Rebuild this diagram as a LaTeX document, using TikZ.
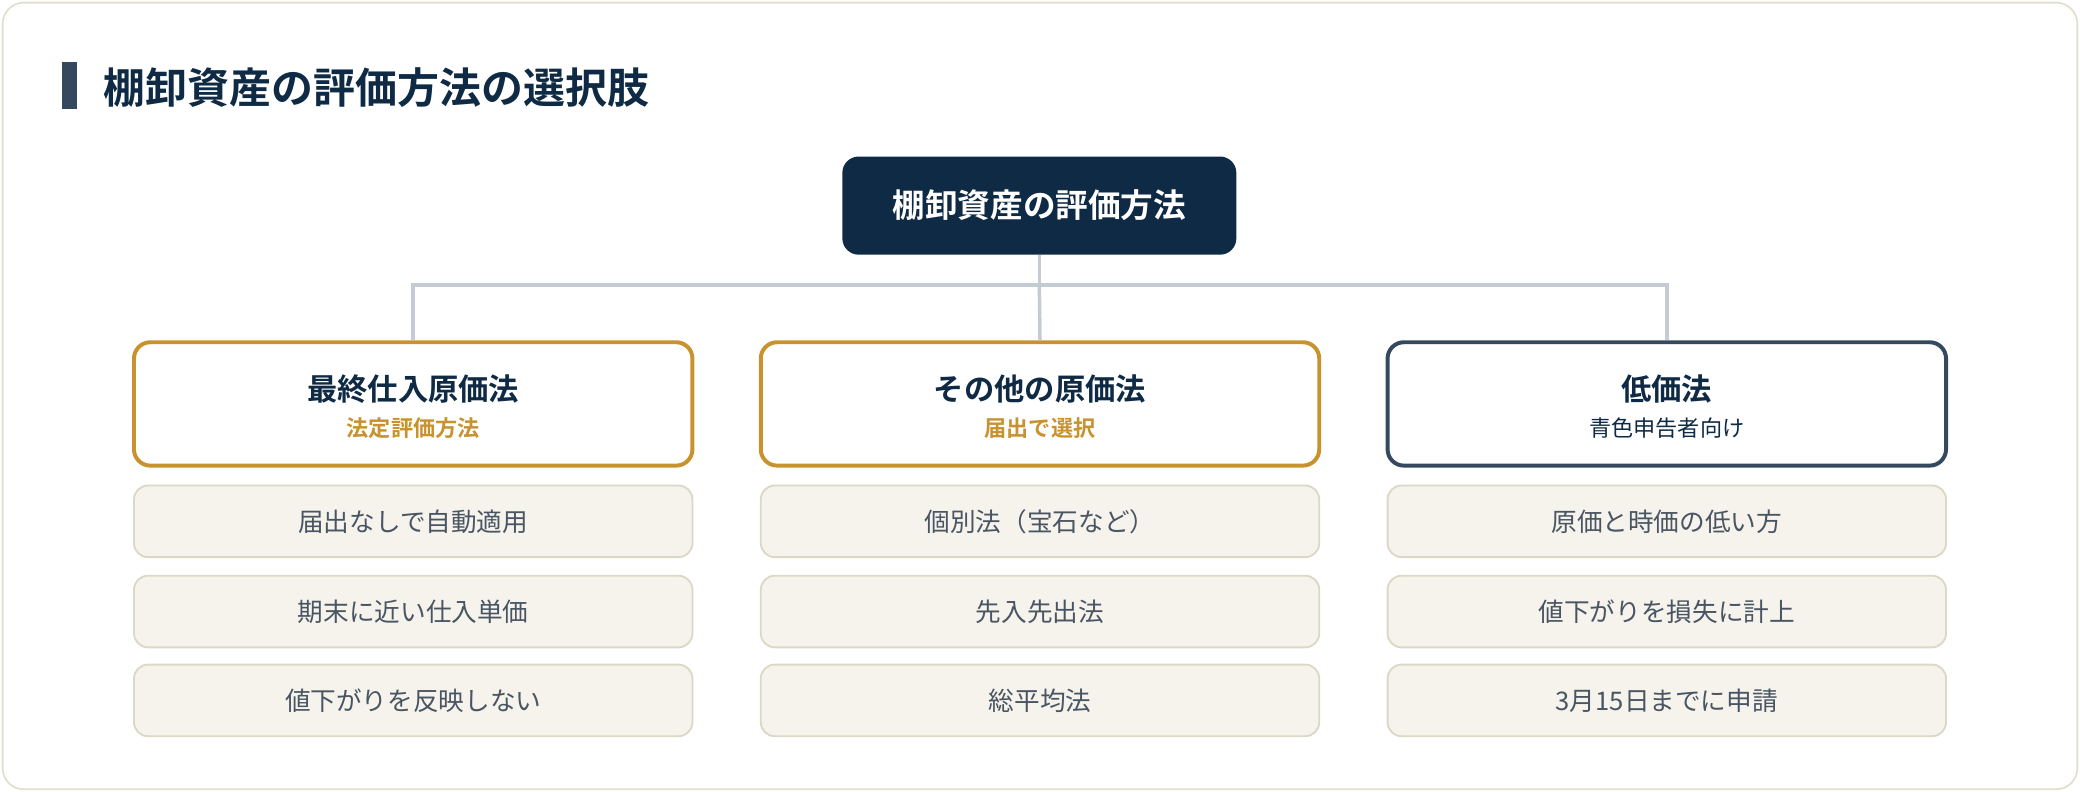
\documentclass[tikz,border=0pt]{standalone}
\usepackage{fontspec}
\setmainfont{Noto Sans CJK JP}[BoldFont={Noto Sans CJK JP Bold}]
\usetikzlibrary{positioning}
\definecolor{navy}{HTML}{0F2A44}
\definecolor{slate}{HTML}{34495E}
\definecolor{gold}{HTML}{C8922E}
\definecolor{frame}{HTML}{E3E0CF}
\definecolor{itemfill}{HTML}{F5F3EC}
\definecolor{itemline}{HTML}{DCD8C6}
\definecolor{itemtext}{HTML}{4A5563}
\definecolor{wire}{HTML}{C5CBD3}
\tikzset{
  cat/.style={draw, line width=1.7pt, fill=white, rounded corners=7pt, minimum width=421*0.02cm, minimum height=93*0.02cm, align=center},
  item/.style={draw=itemline, line width=0.8pt, fill=itemfill, rounded corners=6pt, minimum width=421*0.02cm, minimum height=54*0.02cm, text=itemtext, font=\fontsize{11}{13}\selectfont},
  head/.style={font=\bfseries\fontsize{13}{16}\selectfont},
  sub/.style={font=\bfseries\fontsize{9.5}{12}\selectfont}
}
\begin{document}
\begin{tikzpicture}[x=0.02cm,y=-0.02cm]
    \useasboundingbox (0,0) rectangle (1568,597);
    \draw[frame, line width=0.8pt, rounded corners=9pt] (2,2) rectangle (1566,595);
    \fill[slate] (47,47) rectangle (58,82);
    \node[anchor=west, text=navy, font=\bfseries\fontsize{18}{22}\selectfont] (title) at (72,66) {棚卸資産の評価方法の選択肢};
    
    \node[fill=navy, rounded corners=7pt, minimum width=297*0.02cm, minimum height=74*0.02cm, text=white, font=\bfseries\fontsize{14}{17}\selectfont] (root) at (783.5,155) {棚卸資産の評価方法};
    
    \node[cat, draw=gold] (c1) at (311.5,304.5) {};
    \node[cat, draw=gold] (c2) at (784,304.5) {};
    \node[cat, draw=slate] (c3) at (1256.5,304.5) {};
    
    \node[head, text=navy] at (311.5,293) {最終仕入原価法};
    \node[sub, text=gold] at (311.5,323) {法定評価方法};
    \node[head, text=navy] at (784,293) {その他の原価法};
    \node[sub, text=gold] at (784,323) {届出で選択};
    \node[head, text=navy] at (1256.5,293) {低価法};
    \node[sub, text=navy, font=\fontsize{9.5}{12}\selectfont] at (1256.5,323) {青色申告者向け};
    
    \coordinate (jn) at (783.5,215);
    \draw[wire, line width=1.5pt] (root) -- (jn);
    \draw[wire, line width=1.5pt] (jn) -| (c1.north);
    \draw[wire, line width=1.5pt] (jn) -- (c2.north);
    \draw[wire, line width=1.5pt] (jn) -| (c3.north);
    
    \node[item] (a1) at (311.5,393) {届出なしで自動適用};
    \node[item] (a2) at (311.5,461) {期末に近い仕入単価};
    \node[item] (a3) at (311.5,528) {値下がりを反映しない};
    \node[item] (b1) at (784,393) {個別法（宝石など）};
    \node[item] (b2) at (784,461) {先入先出法};
    \node[item] (b3) at (784,528) {総平均法};
    \node[item] (d1) at (1256.5,393) {原価と時価の低い方};
    \node[item] (d2) at (1256.5,461) {値下がりを損失に計上};
    \node[item] (d3) at (1256.5,528) {3月15日までに申請};
\end{tikzpicture}
\end{document}
